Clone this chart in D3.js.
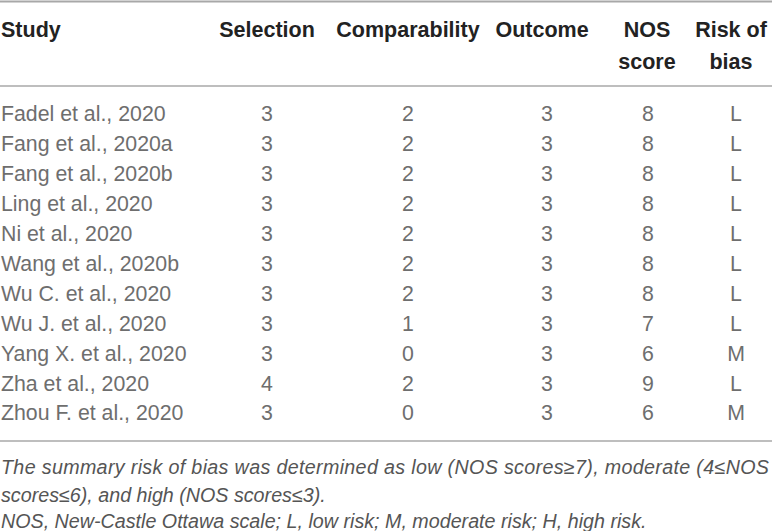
<!DOCTYPE html>
<html>
<head>
<meta charset="utf-8">
<script src="https://cdn.jsdelivr.net/npm/d3@7/dist/d3.min.js"></script>
<style>
  html, body { margin: 0; padding: 0; background: #fff; }
  svg { display: block; }
</style>
</head>
<body>
<svg id="chart" width="772" height="531"></svg>
<script>
// ---- Data ----
const studies = [
  "Fadel et al., 2020", "Fang et al., 2020a", "Fang et al., 2020b", "Ling et al., 2020",
  "Ni et al., 2020", "Wang et al., 2020b", "Wu C. et al., 2020", "Wu J. et al., 2020",
  "Yang X. et al., 2020", "Zha et al., 2020", "Zhou F. et al., 2020"
];
const selection     = [3, 3, 3, 3, 3, 3, 3, 3, 3, 4, 3];
const comparability = [2, 2, 2, 2, 2, 2, 2, 1, 0, 2, 0];
const outcome       = [3, 3, 3, 3, 3, 3, 3, 3, 3, 3, 3];
const nosScore      = [8, 8, 8, 8, 8, 8, 8, 7, 6, 9, 6];
const riskOfBias    = ["L", "L", "L", "L", "L", "L", "L", "L", "M", "L", "M"];
const headers = [["Study"], ["Selection"], ["Comparability"], ["Outcome"], ["NOS", "score"], ["Risk of", "bias"]];
const footnotes = [
  "The summary risk of bias was determined as low (NOS scores\u22657), moderate (4\u2264NOS",
  "scores\u22646), and high (NOS scores\u22643).",
  "NOS, New-Castle Ottawa scale; L, low risk; M, moderate risk; H, high risk."
];

// ---- Layout ----
const svg = d3.select("#chart");
const W = 772;
const headerX = [1, 267, 408, 542, 647, 731];
const dataX   = [1, 267, 408, 547, 648, 736];
const columns = [studies, selection, comparability, outcome, nosScore, riskOfBias];

const y = d3.scalePoint().domain(d3.range(studies.length)).range([114, 413]);

const ruleColor = "#a8a8a8";
svg.append("line").attr("x1", 0).attr("x2", W).attr("y1", 1.5).attr("y2", 1.5)
  .attr("stroke", ruleColor).attr("stroke-width", 2.2);
svg.append("line").attr("x1", 0).attr("x2", W).attr("y1", 86).attr("y2", 86)
  .attr("stroke", ruleColor).attr("stroke-width", 1.6);
svg.append("line").attr("x1", 0).attr("x2", W).attr("y1", 441).attr("y2", 441)
  .attr("stroke", ruleColor).attr("stroke-width", 1.6);

// Headers
const hg = svg.append("g")
  .attr("font-family", "'Liberation Sans', Arial, Helvetica, sans-serif")
  .attr("font-weight", "bold").attr("font-size", 21.5).attr("fill", "#222");
headers.forEach((lines, ci) => {
  lines.forEach((t, li) => {
    hg.append("text")
      .attr("x", headerX[ci])
      .attr("y", 29 + li * 32)
      .attr("dy", "0.35em")
      .attr("text-anchor", ci === 0 ? "start" : "middle")
      .text(t);
  });
});

// Body
const bg = svg.append("g")
  .attr("font-family", "'Liberation Sans', Arial, Helvetica, sans-serif")
  .attr("font-size", 21.3).attr("fill", "#6e6e6e");
columns.forEach((col, ci) => {
  bg.selectAll(null).data(col).join("text")
    .attr("x", dataX[ci])
    .attr("y", (d, i) => y(i))
    .attr("dy", "0.35em")
    .attr("text-anchor", ci === 0 ? "start" : "middle")
    .text(d => d);
});

// Footnotes
const fy = [467, 495, 521];
const fg = svg.append("g")
  .attr("font-family", "'Liberation Sans', Arial, Helvetica, sans-serif")
  .attr("font-style", "italic").attr("font-size", 19.7).attr("fill", "#555");
footnotes.forEach((t, i) => {
  const tx = fg.append("text").attr("x", 1).attr("y", fy[i]).attr("dy", "0.35em").text(t);
  if (i === 0) tx.attr("textLength", 768).attr("lengthAdjust", "spacing");
});
</script>
</body>
</html>
